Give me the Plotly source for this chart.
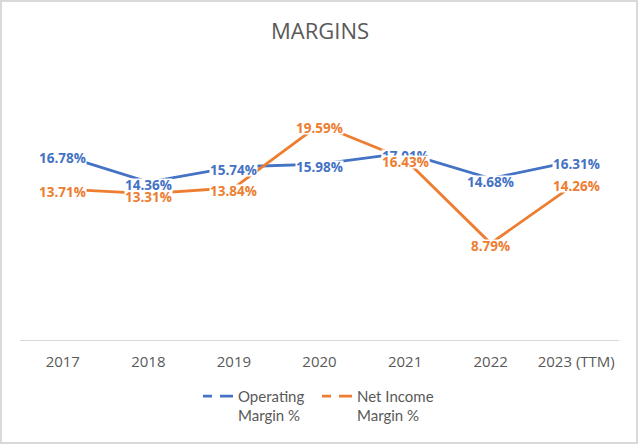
import plotly.graph_objects as go

categories = ["2017", "2018", "2019", "2020", "2021", "2022", "2023 (TTM)"]
operating_margin = [16.78, 14.36, 15.74, 15.98, 17.01, 14.68, 16.31]
net_income_margin = [13.71, 13.31, 13.84, 19.59, 16.43, 8.79, 14.26]
series_names = ["Operating<br>Margin %", "Net Income<br>Margin %"]
colors = ["#4472C4", "#ED7D31"]

W, H = 640, 445
L, R, T, B = 20, 21, 65, 105

fig = go.Figure()
for vals, col in [(operating_margin, colors[0]), (net_income_margin, colors[1])]:
    fig.add_trace(go.Scatter(x=categories, y=vals, mode="lines",
                             line=dict(color=col, width=2.8), showlegend=False,
                             hoverinfo="skip"))
# legend entries
for name, col in zip(series_names, colors):
    fig.add_trace(go.Scatter(x=[categories[0]], y=[None], mode="lines", name=name,
                             line=dict(color=col, width=2.8, dash="9px,8px,13px")))

annotations = []
for vals, col in [(operating_margin, colors[0]), (net_income_margin, colors[1])]:
    for i, v in enumerate(vals):
        # category axis: annotation x given as the category's serial index
        annotations.append(dict(x=i, y=v, xref="x", yref="y", text=f"{v:.2f}%",
                                showarrow=False, bgcolor="white", borderpad=0,
                                height=12, yshift=-3,
                                font=dict(family="Open Sans", size=13.5, color=col,
                                          weight="bold")))

pw, ph = W - L - R, H - T - B
shapes = [dict(type="rect", xref="paper", yref="paper",
               x0=(1 - L) / pw, x1=(W - 3 - L) / pw,
               y0=((H - B) - (H - 2)) / ph, y1=((H - B) - 1) / ph,
               line=dict(color="#D9D9D9", width=2), layer="below")]

fig.update_layout(
    width=W, height=H,
    margin=dict(l=L, r=R, t=T, b=B, autoexpand=False),
    paper_bgcolor="white", plot_bgcolor="white",
    title=dict(text="MARGINS", x=0.5, xanchor="center", y=1 - 31 / H, yanchor="middle",
               font=dict(family="Open Sans", size=22, color="#595959")),
    xaxis=dict(type="category", categoryorder="array", categoryarray=categories,
               range=[-0.5, len(categories) - 0.5], automargin=False,
               showgrid=False, showline=True, linecolor="#D9D9D9",
               linewidth=1, ticks="", tickfont=dict(family="Open Sans", size=15, color="#595959"),
               ticklabelstandoff=8, zeroline=False, fixedrange=True),
    yaxis=dict(range=[0, 25], visible=False, showgrid=False, zeroline=False,
               automargin=False),
    legend=dict(orientation="h", x=(198 - L) / pw, xanchor="left", y=-0.145, yanchor="top",
                font=dict(family="Lato", size=15, color="#595959"),
                valign="top", itemwidth=30, entrywidth=74, entrywidthmode="pixels",
                tracegroupgap=0),
    annotations=annotations,
    shapes=shapes,
    showlegend=True,
)

fig.write_html("out.html", post_script="document.body.style.margin='0px';",
               config={"displayModeBar": False})
